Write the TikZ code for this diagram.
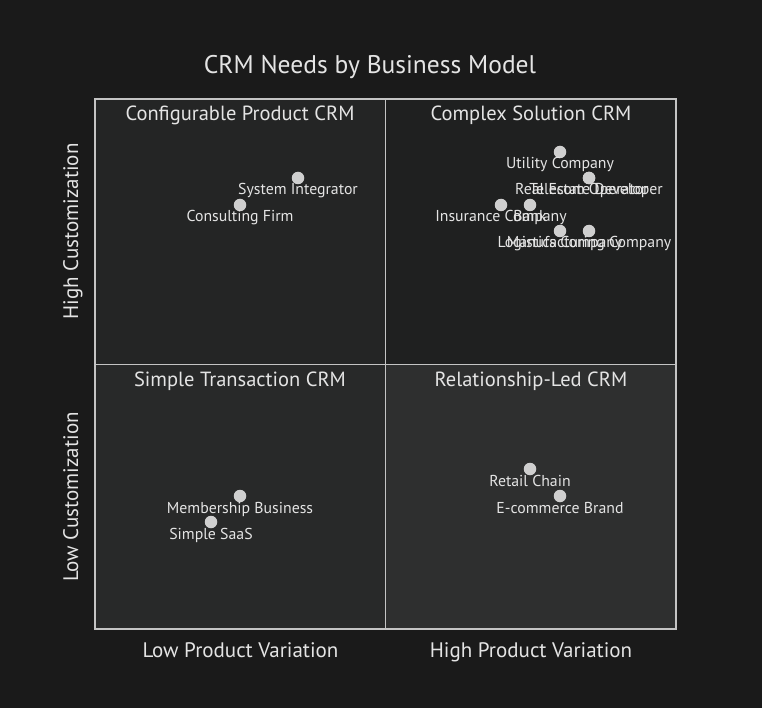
\documentclass[tikz,border=0pt]{standalone}
\usepackage{fontspec}
\setmainfont{PT Sans}
\usepackage{xcolor}
\usetikzlibrary{positioning}

\definecolor{bgcol}{HTML}{1A1A1A}
\definecolor{qTL}{HTML}{242525}
\definecolor{qTR}{HTML}{1F2020}
\definecolor{qBL}{HTML}{282929}
\definecolor{qBR}{HTML}{2E2F2F}
\definecolor{linecol}{HTML}{C4C4C4}
\definecolor{txtcol}{HTML}{E4E4E4}
\definecolor{dotcol}{HTML}{CFCFCF}

\begin{document}
\begin{tikzpicture}[x=1pt, y=-1pt,
  qtitle/.style={text=txtcol, font=\fontsize{20.5}{24}\selectfont, inner sep=0pt, anchor=base},
  axislbl/.style={text=txtcol, font=\fontsize{21}{24}\selectfont, inner sep=0pt, anchor=base},
  dot/.style={circle, fill=dotcol, minimum size=12.5pt, inner sep=0pt},
  plbl/.style={text=txtcol, font=\fontsize{15.8}{18}\selectfont, inner sep=0pt, anchor=base}]
  \useasboundingbox[fill=bgcol] (0,0) rectangle (762,708);
  \node[text=txtcol, font=\fontsize{25.5}{30}\selectfont, inner sep=0pt, anchor=base] (title) at (370,74) {CRM Needs by Business Model};
  % quadrants
  \fill[qTL] (95,99) rectangle (385.5,364);
  \fill[qTR] (385.5,99) rectangle (676,364);
  \fill[qBL] (95,364) rectangle (385.5,629);
  \fill[qBR] (385.5,364) rectangle (676,629);
  \draw[linecol, line width=1pt] (385.5,99) -- (385.5,629);
  \draw[linecol, line width=1pt] (95,364) -- (676,364);
  \draw[linecol, line width=2pt] (95,99) rectangle (676,629);
  \node[qtitle] (q2) at (240,121) {Configurable Product CRM};
  \node[qtitle] (q1) at (531,121) {Complex Solution CRM};
  \node[qtitle] (q3) at (240,386) {Simple Transaction CRM};
  \node[qtitle] (q4) at (531,386) {Relationship-Led CRM};
  % axes
  \node[axislbl] (xlow) at (240.5,657) {Low Product Variation};
  \node[axislbl] (xhigh) at (531,657) {High Product Variation};
  \node[axislbl, rotate=90] (ylow) at (78,497) {Low Customization};
  \node[axislbl, rotate=90] (yhigh) at (78,231.5) {High Customization};
  % points
  \node[dot] (sysint) at (298,178) {};
  \node[dot] (consult) at (240,205) {};
  \node[dot] (utility) at (560,152) {};
  \node[dot] (realest) at (589,178) {};
  \node[dot] (telecom) at (589,178) {};
  \node[dot] (insur) at (501,205) {};
  \node[dot] (bank) at (530,205) {};
  \node[dot] (logist) at (560,231) {};
  \node[dot] (manuf) at (589,231) {};
  \node[dot] (member) at (240,496) {};
  \node[dot] (saas) at (211,522) {};
  \node[dot] (retail) at (530,469) {};
  \node[dot] (ecom) at (560,496) {};
  \node[plbl] at ([yshift=-17pt]sysint) {System Integrator};
  \node[plbl] at ([yshift=-17pt]consult) {Consulting Firm};
  \node[plbl] at ([yshift=-17pt]utility) {Utility Company};
  \node[plbl] at ([yshift=-17pt]realest) {Real Estate Developer};
  \node[plbl] at ([yshift=-17pt]telecom) {Telecom Operator};
  \node[plbl] at ([yshift=-17pt]insur) {Insurance Company};
  \node[plbl] at ([yshift=-17pt]bank) {Bank};
  \node[plbl] at ([yshift=-17pt]logist) {Logistics Company};
  \node[plbl] at ([yshift=-17pt]manuf) {Manufacturing Company};
  \node[plbl] at ([yshift=-17pt]member) {Membership Business};
  \node[plbl] at ([yshift=-17pt]saas) {Simple SaaS};
  \node[plbl] at ([yshift=-17pt]retail) {Retail Chain};
  \node[plbl] at ([yshift=-17pt]ecom) {E-commerce Brand};
\end{tikzpicture}
\end{document}
